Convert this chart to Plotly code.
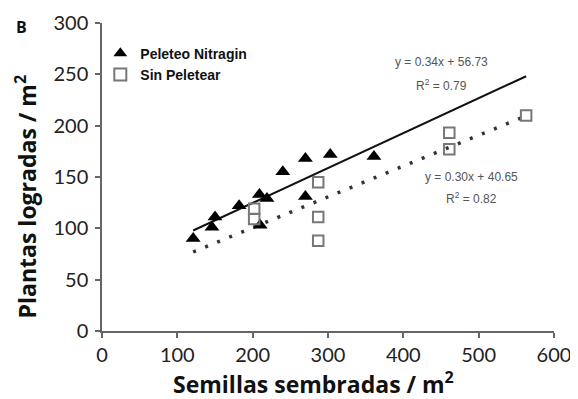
import plotly.graph_objects as go

# ---- data ----
peleteo_x = [121, 146, 150, 182, 209, 219, 210, 240, 270, 303, 270, 361]
peleteo_y = [90, 101, 111, 122, 133, 129, 103, 155, 168, 172, 131, 170]
sin_x = [202, 202, 287, 287, 287, 461, 461, 563]
sin_y = [119, 109, 145, 111, 88, 193, 177, 210]

series_names = ["Peleteo Nitragin", "Sin Peletear"]
slopes = [0.34, 0.30]
intercepts = [56.73, 40.65]
r2 = [0.79, 0.82]

x_ticks = [0, 100, 200, 300, 400, 500, 600]
y_ticks = [0, 50, 100, 150, 200, 250, 300]

# trendline extent = span of all seeded values
all_x = peleteo_x + sin_x
trend_x = [min(all_x), max(all_x)]

# the page body has an 8px margin: size the figure so that it fills the window
OFF = 8
W, H = 578 - OFF, 399 - OFF
L, R, T, B = 101.7 - OFF, 24, 23.3 - OFF, 68.3
PW, PH = W - L - R, H - T - B


def px_x(p):  # window pixel -> paper x
    return (p - OFF - L) / PW


def px_y(p):  # window pixel -> paper y
    return (H - B - (p - OFF)) / PH


fig = go.Figure()

fig.add_trace(go.Scatter(
    x=trend_x, y=[slopes[0] * v + intercepts[0] for v in trend_x],
    mode="lines", line=dict(color="#111111", width=2), showlegend=False, hoverinfo="skip"))
fig.add_trace(go.Scatter(
    x=trend_x, y=[slopes[1] * v + intercepts[1] for v in trend_x],
    mode="lines", line=dict(color="#333333", width=3.5, dash="3px,10px"), showlegend=False, hoverinfo="skip"))

fig.add_trace(go.Scatter(
    x=peleteo_x, y=peleteo_y, mode="markers", name=series_names[0],
    marker=dict(symbol="triangle-up", size=13, color="#000000")))
fig.add_trace(go.Scatter(
    x=sin_x, y=sin_y, mode="markers", name=series_names[1],
    marker=dict(symbol="square-open", size=10.5, color="#777777", line=dict(width=2, color="#777777"))))

eq_font = dict(family="Liberation Sans, Arial, sans-serif", size=12, color="#555555")
fig.add_annotation(x=451, y=262.5, xref="x", yref="y", showarrow=False, font=eq_font,
                   text=f"y = {slopes[0]:.2f}x + {intercepts[0]:.2f}")
fig.add_annotation(x=451, y=240, xref="x", yref="y", showarrow=False, font=eq_font,
                   text=f"R<sup>2</sup> = {r2[0]:.2f}")
fig.add_annotation(x=490.7, y=149.7, xref="x", yref="y", showarrow=False, font=eq_font,
                   text=f"y = {slopes[1]:.2f}x + {intercepts[1]:.2f}")
fig.add_annotation(x=490.7, y=129.2, xref="x", yref="y", showarrow=False, font=eq_font,
                   text=f"R<sup>2</sup> = {r2[1]:.2f}")

title_font = dict(family="Open Sans, sans-serif", size=23, color="#111111")
fig.add_annotation(x=px_x(21), y=px_y(27), xref="paper", yref="paper", showarrow=False,
                   xanchor="center", yanchor="middle",
                   text="<b>B</b>", font=dict(family="Open Sans, sans-serif", size=16, color="#111111"))
fig.add_annotation(x=px_x(313), y=px_y(383), xref="paper", yref="paper", showarrow=False,
                   xanchor="center", yanchor="middle",
                   text="<b>Semillas sembradas / m<sup>2</sup></b>", font=title_font)
fig.add_annotation(x=px_x(26), y=px_y(197), xref="paper", yref="paper", showarrow=False,
                   xanchor="center", yanchor="middle", textangle=-90,
                   text="<b>Plantas logradas / m<sup>2</sup></b>", font=title_font)

axis_common = dict(
    showgrid=False, zeroline=False, showline=True, linecolor="#666666", linewidth=1.5,
    ticks="outside", ticklen=5, tickcolor="#666666", tickwidth=1.5,
    tickfont=dict(family="Lato, sans-serif", size=20, color="#222222"),
)

fig.update_layout(
    width=W, height=H,
    margin=dict(l=L, r=R, t=T, b=B, pad=0, autoexpand=False),
    paper_bgcolor="white", plot_bgcolor="white",
    showlegend=True,
    legend=dict(x=px_x(100), y=px_y(38), xanchor="left", yanchor="top",
                bgcolor="rgba(0,0,0,0)", itemsizing="constant",
                font=dict(family="Liberation Sans Narrow, Arial Narrow, sans-serif", size=14,
                          color="#111111", weight="bold"),
                tracegroupgap=0, itemwidth=30),
    xaxis=dict(range=[0, 600], tickvals=x_ticks, **axis_common),
    yaxis=dict(range=[0, 300], tickvals=y_ticks, **axis_common, ticklabelstandoff=3),
)

fig.write_html("out.html")
